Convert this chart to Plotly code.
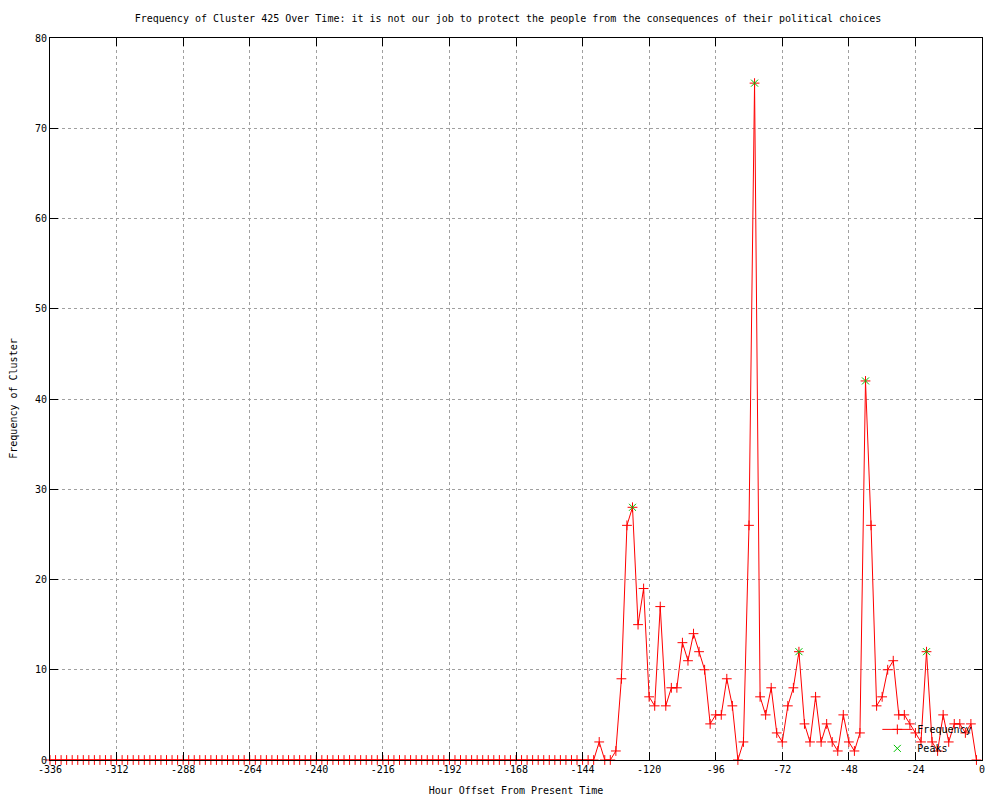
import plotly.graph_objects as go

# hour offsets, sampled every 2 hours
hours = list(range(-336, 0, 2))

frequency = [
    0, 0, 0, 0, 0, 0, 0, 0, 0, 0, 0, 0, 0, 0, 0, 0, 0, 0, 0, 0,
    0, 0, 0, 0, 0, 0, 0, 0, 0, 0, 0, 0, 0, 0, 0, 0, 0, 0, 0, 0,
    0, 0, 0, 0, 0, 0, 0, 0, 0, 0, 0, 0, 0, 0, 0, 0, 0, 0, 0, 0,
    0, 0, 0, 0, 0, 0, 0, 0, 0, 0, 0, 0, 0, 0, 0, 0, 0, 0, 0, 0,
    0, 0, 0, 0, 0, 0, 0, 0, 0, 0, 0, 0, 0, 0, 0, 0, 0, 0, 0,
    # -138 .. -2
    2, 0, 0, 1, 9, 26, 28, 15, 19, 7,
    6, 17, 6, 8, 8, 13, 11, 14, 12, 10,
    4, 5, 5, 9, 6, 0, 2, 26, 75, 7,
    5, 8, 3, 2, 6, 8, 12, 4, 2, 7,
    2, 4, 2, 1, 5, 2, 1, 3, 42, 26,
    6, 7, 10, 11, 5, 5, 4, 3, 2, 12,
    2, 1, 5, 2, 4, 4, 3, 4, 0,
]

peak_hours = [-126, -82, -66, -42, -20]
peak_values = [28, 75, 12, 42, 12]

x_ticks = [-336, -312, -288, -264, -240, -216, -192, -168, -144, -120, -96, -72, -48, -24, 0]
x_tick_labels = ["-336", "-312", "-288", "-264", "-240", "-216", "-192", "-168",
                 "-144", "-120", "-96", "-72", "-48", "-24", "0"]
y_ticks = [0, 10, 20, 30, 40, 50, 60, 70, 80]

FONT = "DejaVu Sans Mono"
RED = "#ff0000"
GREEN = "#00c000"

fig = go.Figure()
fig.add_trace(go.Scatter(
    x=hours, y=frequency, mode="lines+markers", name="Frequency",
    line=dict(color=RED, width=1),
    marker=dict(symbol="cross-thin", size=7, line=dict(color=RED, width=1)),
    cliponaxis=False,
))
fig.add_trace(go.Scatter(
    x=peak_hours, y=peak_values, mode="markers", name="Peaks",
    marker=dict(symbol="x-thin", size=7, color=GREEN, line=dict(color=GREEN, width=1)),
    cliponaxis=False,
))

axis_common = dict(
    showline=True, linecolor="black", linewidth=1, mirror="allticks",
    ticks="inside", ticklen=8, tickcolor="black", tickwidth=1,
    showgrid=True, gridcolor="#a0a0a0", griddash="dot", gridwidth=1,
    zeroline=False, tickfont=dict(family=FONT, size=10, color="black"),
)

# the page puts the figure 8px in from the top-left corner
fig.update_layout(
    width=1000, height=800,
    paper_bgcolor="white", plot_bgcolor="white",
    font=dict(family=FONT, size=10, color="black"),
    margin=dict(l=42, r=26, t=30, b=48, autoexpand=False),
    title=dict(
        text="Frequency of Cluster 425 Over Time: it is not our job to protect the people from the consequences of their political choices",
        x=0.5, xanchor="center", y=0.9875, yanchor="middle",
        font=dict(family=FONT, size=10, color="black"),
    ),
    xaxis=dict(
        range=[-336, 0], tickvals=x_ticks, ticktext=x_tick_labels,
        title=dict(text="Hour Offset From Present Time", standoff=12,
                   font=dict(family=FONT, size=10)),
        **axis_common,
    ),
    yaxis=dict(range=[0, 80], tickvals=y_ticks, **axis_common),
    legend=dict(
        x=0.995, xanchor="right", y=-0.004, yanchor="bottom",
        bgcolor="rgba(0,0,0,0)", font=dict(family=FONT, size=10),
        tracegroupgap=0, itemwidth=30,
    ),
)

# y title sits further left than plotly's standoff allows
fig.add_annotation(
    text="Frequency of Cluster", textangle=-90,
    xref="paper", yref="paper", x=-0.04, y=0.5,
    xanchor="center", yanchor="middle", showarrow=False,
    font=dict(family=FONT, size=10, color="black"),
)

fig.write_html("out.html")
